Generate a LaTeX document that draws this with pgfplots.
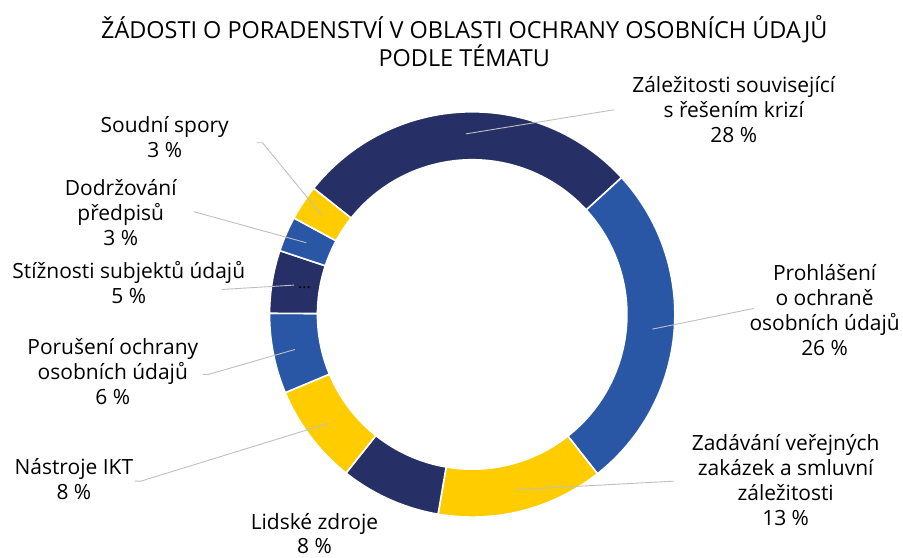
\documentclass[border=0pt]{standalone}
\usepackage{fontspec}
\setmainfont{Open Sans}
\usepackage{pgfplots}
\usepackage{pgfplotstable}
\pgfplotsset{compat=1.18}

\definecolor{cnavy}{RGB}{38,48,102}
\definecolor{cblue}{RGB}{42,87,165}
\definecolor{cyellow}{RGB}{255,204,0}
\definecolor{leader}{RGB}{191,191,191}

% share in %, slice colour, leader end (x,y) and short kink, lead=0 means no leader
\pgfplotstableread{
share col     ex   ey   k  lead
27.5  cnavy   615  446  0  1
26.2  cblue   755  247  0  1
13.3  cyellow 675  74   0  1
8.0   cnavy   0    0    0  0
8.0   cyellow 135  74   6  1
6.4   cblue   203  181  6  1
5.0   cnavy   222  266  0  1
2.8   cblue   194  344  0  1
2.8   cyellow 257  413  6  1
}\slices

\begin{document}
\begin{tikzpicture}
\begin{axis}[
  x=1pt, y=1pt,
  xmin=0, xmax=903, ymin=0, ymax=556,
  hide axis, scale only axis, clip=false,
]
\addplot[draw=none] coordinates {(0,0) (903,556)};
\pgfplotsextra{%
  \path (axis cs:473,241) coordinate (C);
  \gdef\curA{141.5}%
  \foreach \i in {0,...,8}{%
    \pgfplotstablegetelem{\i}{share}\of\slices \let\curV\pgfplotsretval
    \pgfplotstablegetelem{\i}{col}\of\slices \let\curC\pgfplotsretval
    \pgfmathsetmacro\curB{\curA-3.6*\curV}%
    \pgfmathsetmacro\curM{(\curA+\curB)/2}%
    \fill[\curC, draw=white, line width=1.6pt]
      ([shift={(\curA:203pt)}]C) arc[start angle=\curA, end angle=\curB, radius=203pt]
      -- ([shift={(\curB:155pt)}]C) arc[start angle=\curB, end angle=\curA, radius=155pt]
      -- cycle;
    \pgfplotstablegetelem{\i}{lead}\of\slices \let\curL\pgfplotsretval
    \ifnum\curL=1
      \pgfplotstablegetelem{\i}{ex}\of\slices \let\curX\pgfplotsretval
      \pgfplotstablegetelem{\i}{ey}\of\slices \let\curY\pgfplotsretval
      \pgfplotstablegetelem{\i}{k}\of\slices \let\curK\pgfplotsretval
      \pgfmathsetmacro\curXK{\curX+\curK}%
      \draw[leader, line width=0.9pt] ([shift={(\curM:181pt)}]C)
        -- (axis cs:\curXK,\curY) -- (axis cs:\curX,\curY);
    \fi
    \global\let\curA\curB
  }%
}
\begin{scope}[every node/.style={align=center, text=black, font=\fontsize{21}{25}\selectfont}]
\node[font=\fontsize{23.5}{28}\selectfont] at (axis cs:465,515) {ŽÁDOSTI O PORADENSTVÍ V OBLASTI OCHRANY OSOBNÍCH ÚDAJŮ\\PODLE TÉMATU};
\node at (axis cs:735,446) {Záležitosti související\\s řešením krizí\\28 \%};
\node at (axis cs:826,245.5) {Prohlášení\\o ochraně\\osobních údajů\\26 \%};
\node at (axis cs:787,75) {Zadávání veřejných\\zakázek a smluvní\\záležitosti\\13 \%};
\node at (axis cs:315,21.5) {Lidské zdroje\\8 \%};
\node at (axis cs:74,76.5) {Nástroje IKT\\8 \%};
\node at (axis cs:113,183.5) {Porušení ochrany\\osobních údajů\\6 \%};
\node at (axis cs:129,273) {Stížnosti subjektů údajů\\5 \%};
\node at (axis cs:121,343.5) {Dodržování\\předpisů\\3 \%};
\node at (axis cs:165,418.5) {Soudní spory\\3 \%};
\node[font=\fontsize{16}{18}\selectfont] at (axis cs:305,268) {...};
\end{scope}
\end{axis}
\end{tikzpicture}
\end{document}
